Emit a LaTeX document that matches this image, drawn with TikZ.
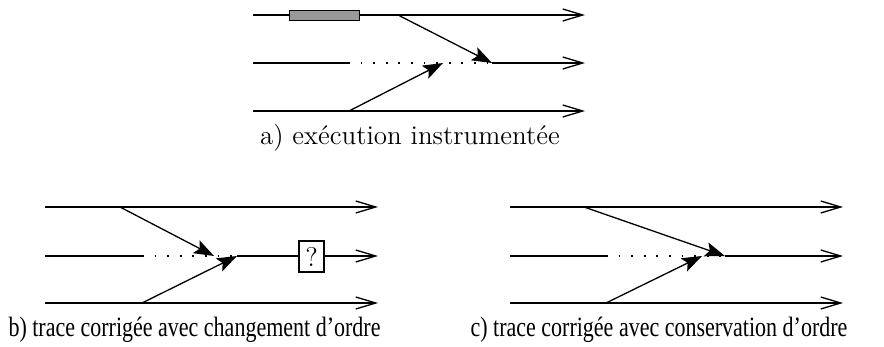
\documentclass[tikz,border=0pt]{standalone}
\usepackage{fontspec}
\newfontfamily\timesfont{Liberation Serif}
\usetikzlibrary{arrows.meta}
\begin{document}
\begin{tikzpicture}[x=0.5pt,y=-0.5pt,line width=0.65pt,
  tl/.style={-{Straight Barb[length=10pt,width=6pt,line width=0.65pt]}},
  msg/.style={-{Stealth[length=10pt,width=7.2pt,inset=2pt]}},
  dots/.style={dash pattern=on 0.9pt off 5.4pt},
  capa/.style={anchor=base,inner sep=0pt,font=\fontsize{13.5}{16}\selectfont},
  capb/.style={anchor=base,inner sep=0pt,font=\timesfont\fontsize{11}{13}\selectfont},
  graybox/.style={draw,fill=black!40,minimum width=35pt,minimum height=5pt,inner sep=0pt,line width=0.5pt},
  qbox/.style={draw,fill=white,minimum width=12.5pt,minimum height=15.5pt,inner sep=0pt,font=\fontsize{13.5}{16}\selectfont}]
\useasboundingbox (0,0) rectangle (884,347);
% ---------- panel a
\coordinate (a1s) at (253,15); \coordinate (a1x) at (398,15); \coordinate (a1e) at (585,15);
\coordinate (a2s) at (253,63); \coordinate (a2d) at (348,63); \coordinate (a2t) at (443,63);
\coordinate (a2m) at (492,63); \coordinate (a2e) at (585,63);
\coordinate (a3s) at (253,111); \coordinate (a3x) at (349,111); \coordinate (a3e) at (585,111);
\draw[tl] (a1s) -- (a1e);
\node[graybox] (ga) at (324,16) {};
\draw (a2s) -- (a2d);
\draw[dots] (a2d) -- (a2m);
\draw[tl] (a2m) -- (a2e);
\draw[tl] (a3s) -- (a3e);
\draw[msg] (a1x) -- (a2m);
\draw[msg] (a3x) -- (a2t);
\node[capa] (capa) at (410,145) {a) exécution instrumentée};
% ---------- panel b
\coordinate (b1s) at (45,207); \coordinate (b1x) at (120,207); \coordinate (b1e) at (378,207);
\coordinate (b2s) at (45,256); \coordinate (b2d) at (142,256); \coordinate (b2t) at (214,256);
\coordinate (b2m) at (237,256); \coordinate (b2e) at (378,256);
\coordinate (b3s) at (45,303); \coordinate (b3x) at (142,303); \coordinate (b3e) at (378,303);
\draw[tl] (b1s) -- (b1e);
\draw (b2s) -- (b2d);
\draw[dots] (b2d) -- (b2m);
\draw[tl] (b2m) -- (b2e);
\draw[tl] (b3s) -- (b3e);
\node[qbox] (q) at (311.5,256.5) {?};
\draw[msg] (b1x) -- (b2t);
\draw[msg] (b3x) -- (b2m);
\node[capb] (capb) at (194.5,336) {\scalebox{1}[1.27]{b) trace corrigée avec changement d’ordre}};
% ---------- panel c
\coordinate (c1s) at (510,207); \coordinate (c1x) at (584,207); \coordinate (c1e) at (843,207);
\coordinate (c2s) at (510,256); \coordinate (c2d) at (606,256); \coordinate (c2t) at (702,256);
\coordinate (c2m) at (725,256); \coordinate (c2e) at (843,256);
\coordinate (c3s) at (510,303); \coordinate (c3x) at (606,303); \coordinate (c3e) at (843,303);
\draw[tl] (c1s) -- (c1e);
\draw (c2s) -- (c2d);
\draw[dots] (c2d) -- (c2m);
\draw[tl] (c2m) -- (c2e);
\draw[tl] (c3s) -- (c3e);
\draw[msg] (c1x) -- (c2m);
\draw[msg] (c3x) -- (c2t);
\node[capb] (capc) at (659,336) {\scalebox{1}[1.27]{c) trace corrigée avec conservation d’ordre}};
\end{tikzpicture}
\end{document}
